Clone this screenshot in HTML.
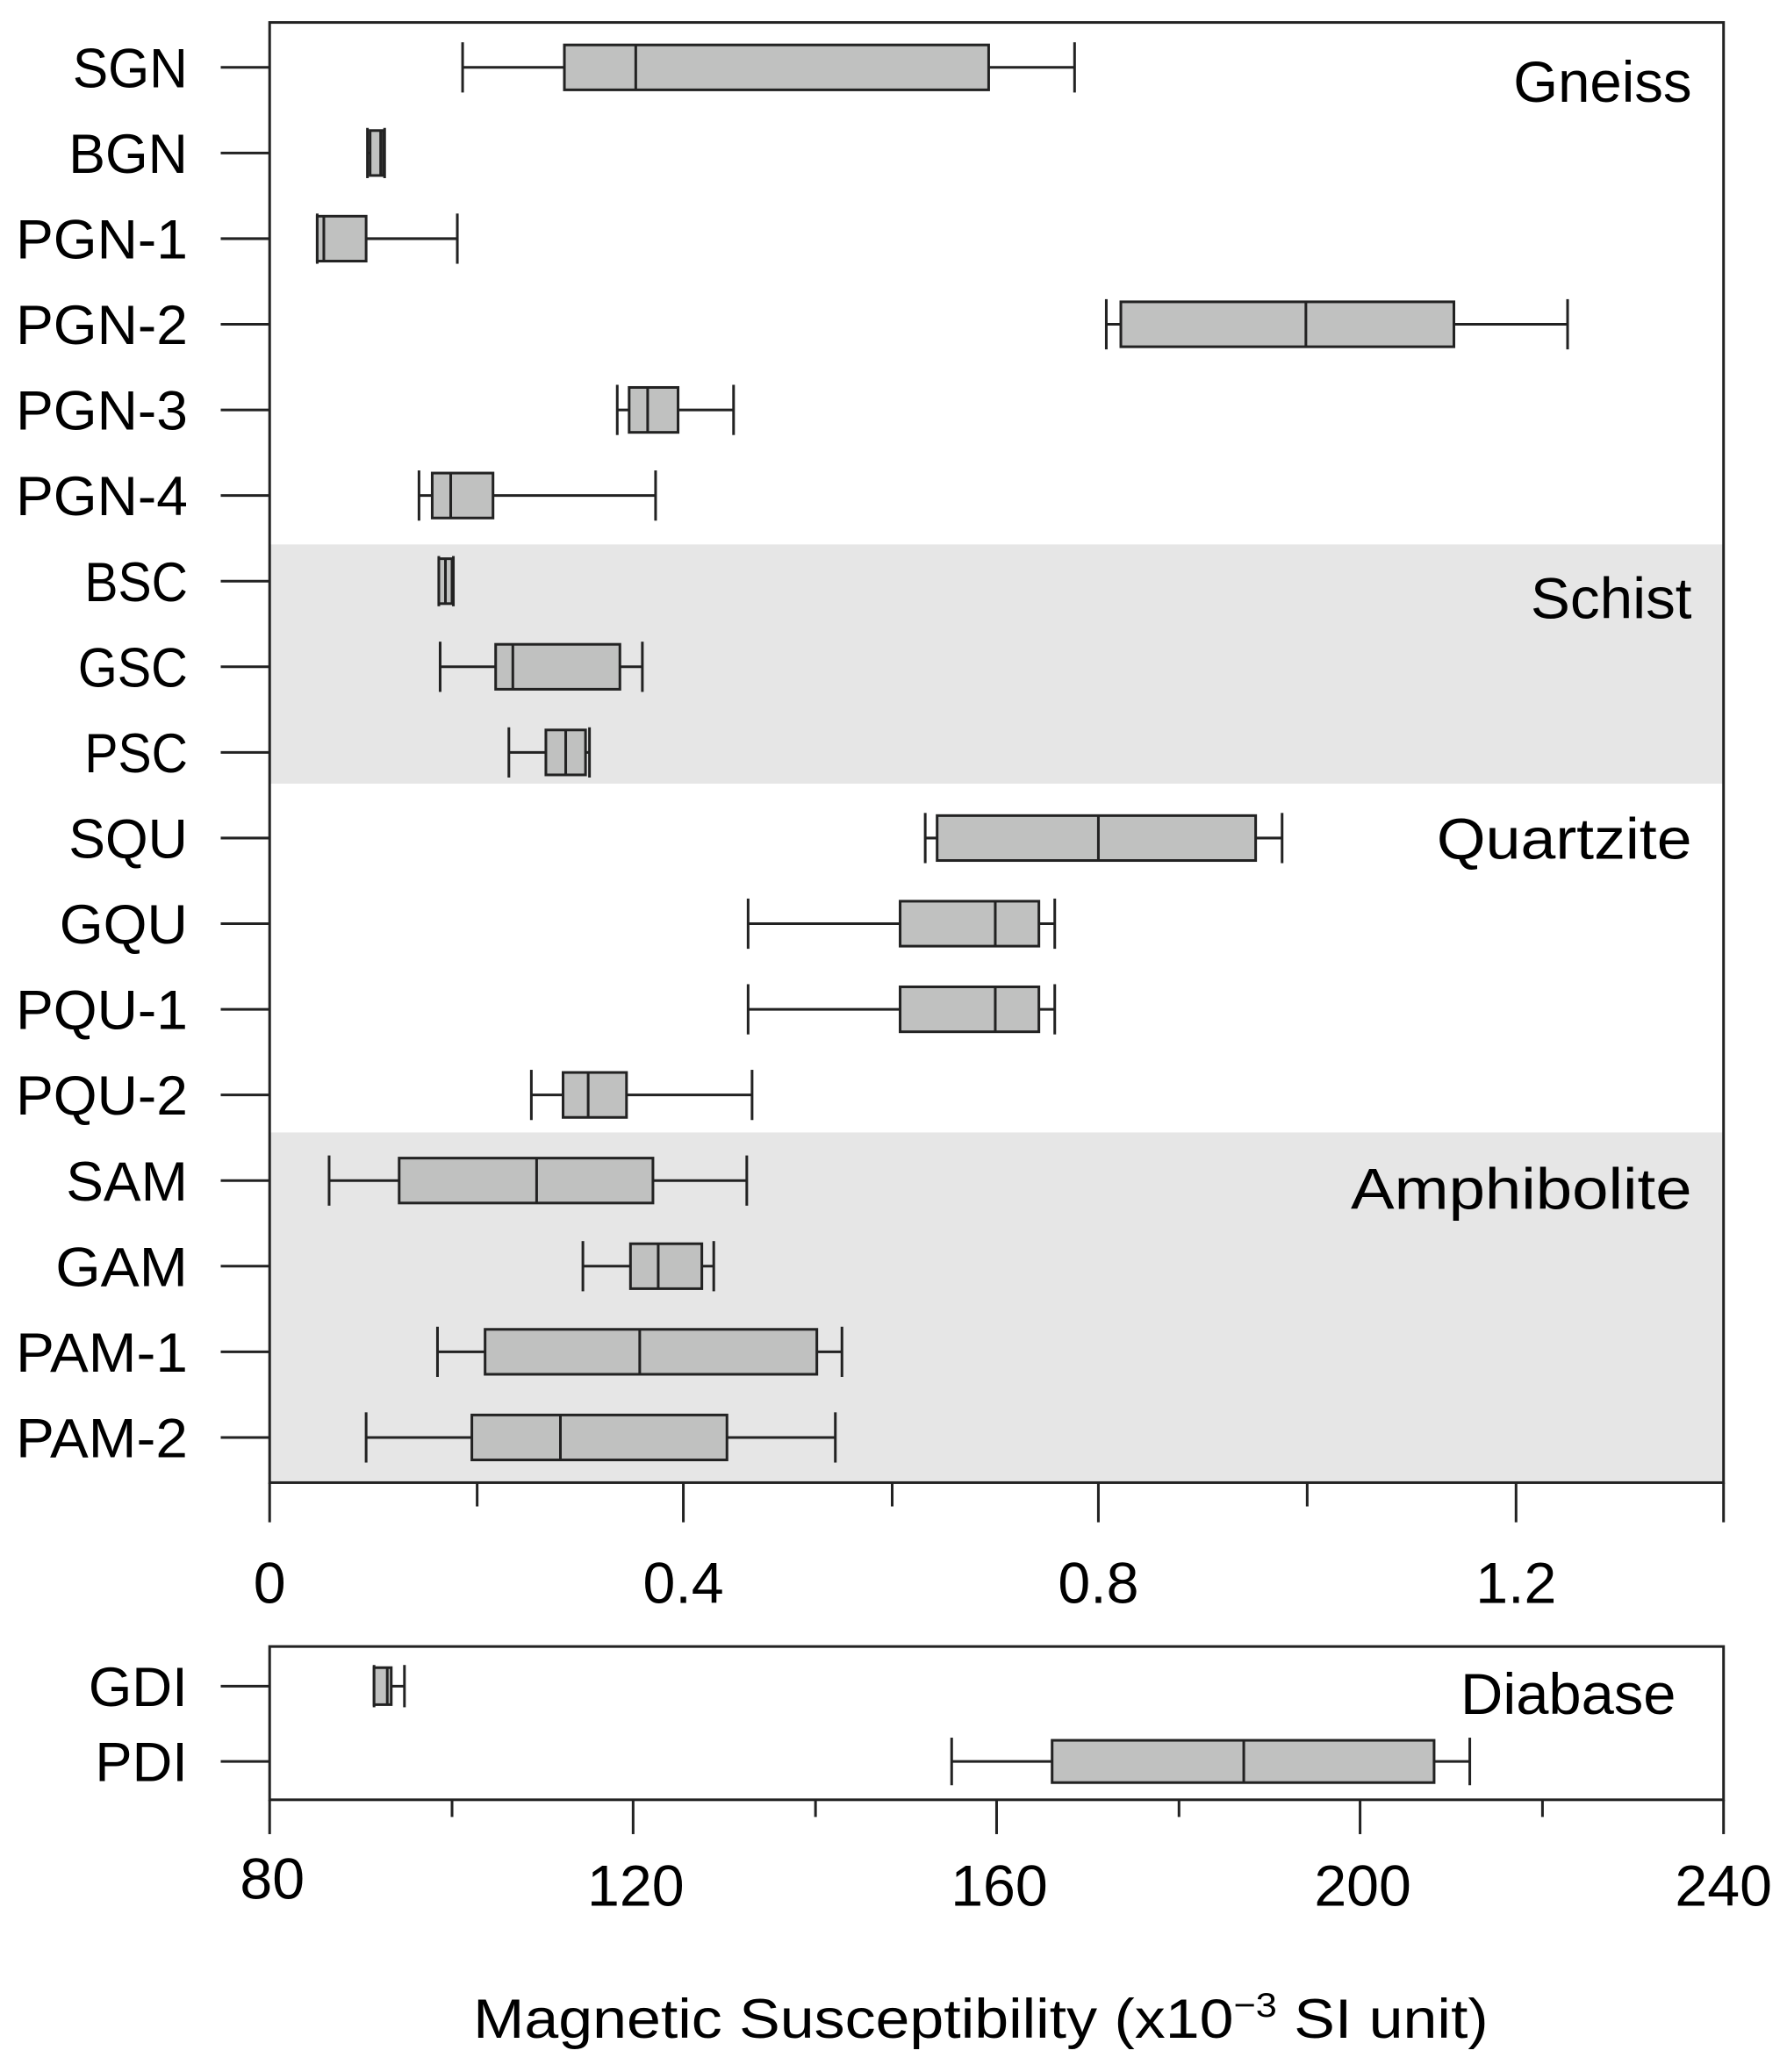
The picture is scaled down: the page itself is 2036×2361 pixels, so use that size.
<!DOCTYPE html>
<html><head><meta charset="utf-8"><style>html,body{margin:0;padding:0;background:#fff}svg{display:block}</style></head>
<body>
<svg width="2036" height="2361" viewBox="0 0 1352 1568" preserveAspectRatio="none" xmlns="http://www.w3.org/2000/svg" font-family="Liberation Sans, sans-serif" fill="#000">
<rect x="204" y="412" width="1100" height="181" fill="#e6e6e6"/>
<rect x="204" y="857" width="1100" height="265" fill="#e6e6e6"/>
<rect x="204" y="17" width="1100" height="1105" fill="none" stroke="#222" stroke-width="2"/>
<g stroke="#222" stroke-width="2">
<line x1="204" y1="1122" x2="204" y2="1152"/><line x1="517" y1="1122" x2="517" y2="1152"/><line x1="831" y1="1122" x2="831" y2="1152"/><line x1="1147" y1="1122" x2="1147" y2="1152"/><line x1="1304" y1="1122" x2="1304" y2="1152"/>
<line x1="361" y1="1122" x2="361" y2="1140"/><line x1="675" y1="1122" x2="675" y2="1140"/><line x1="989" y1="1122" x2="989" y2="1140"/>
</g>
<g font-size="44" text-anchor="middle">
<text x="204" y="1213">0</text><text x="517" y="1213">0.4</text><text x="831" y="1213">0.8</text><text x="1147" y="1213">1.2</text>
</g>
<g id="rows" stroke="#222" stroke-width="2" fill="#c0c1c0"></g>
<g font-size="42" text-anchor="end" id="labels"></g>
<g font-size="44" text-anchor="end">
<text x="1280" y="77" textLength="135" lengthAdjust="spacingAndGlyphs">Gneiss</text>
<text x="1280" y="468" textLength="122" lengthAdjust="spacingAndGlyphs">Schist</text>
<text x="1280" y="650" textLength="193" lengthAdjust="spacingAndGlyphs">Quartzite</text>
<text x="1280" y="915" textLength="258" lengthAdjust="spacingAndGlyphs">Amphibolite</text>
<text x="1268" y="1297" textLength="163" lengthAdjust="spacingAndGlyphs">Diabase</text>
</g>
<rect x="204" y="1246" width="1100" height="116" fill="none" stroke="#222" stroke-width="2"/>
<g stroke="#222" stroke-width="2">
<line x1="204" y1="1362" x2="204" y2="1388"/><line x1="479" y1="1362" x2="479" y2="1388"/><line x1="754" y1="1362" x2="754" y2="1388"/><line x1="1029" y1="1362" x2="1029" y2="1388"/><line x1="1304" y1="1362" x2="1304" y2="1388"/>
<line x1="342" y1="1362" x2="342" y2="1375"/><line x1="617" y1="1362" x2="617" y2="1375"/><line x1="892" y1="1362" x2="892" y2="1375"/><line x1="1167" y1="1362" x2="1167" y2="1375"/>
</g>
<g font-size="44" text-anchor="middle">
<text x="206" y="1437">80</text><text x="481" y="1442">120</text><text x="756" y="1442">160</text><text x="1031" y="1442">200</text><text x="1304" y="1442">240</text>
</g>
<text x="358" y="1542" font-size="42" textLength="768" lengthAdjust="spacingAndGlyphs">Magnetic Susceptibility (x10<tspan font-size="26" dy="-16">−3</tspan><tspan dy="16"> SI unit)</tspan></text>
<script>
var d=[["SGN",87,350,427,481,748,813],["BGN",90,278,280,288,290,291],["PGN-1",130,240,240,245,277,346],["PGN-2",130,837,848,988,1100,1186],["PGN-3",130,467,476,490,513,555],["PGN-4",130,317,327,341,373,496],["BSC",78,332,332,337,342,343],["GSC",83,333,375,388,469,486],["PSC",78,385,413,428,443,446],["SQU",90,700,709,831,950,970],["GQU",97,566,681,753,786,798],["PQU-1",130,566,681,753,786,798],["PQU-2",130,402,426,445,474,569],["SAM",92,249,302,406,494,565],["GAM",100,441,477,498,531,540],["PAM-1",130,331,367,484,618,637],["PAM-2",130,277,357,424,550,632]];
var ns="http://www.w3.org/2000/svg",R=document.getElementById("rows"),L=document.getElementById("labels");
function el(p,t,a){var e=document.createElementNS(ns,t);for(var k in a)e.setAttribute(k,a[k]);p.appendChild(e);return e;}
function row(r,y,h){el(R,"line",{x1:167,y1:y,x2:204,y2:y});
el(R,"line",{x1:r[2],y1:y,x2:r[6],y2:y});
el(R,"line",{x1:r[2],y1:y-h/2-2,x2:r[2],y2:y+h/2+2});
el(R,"line",{x1:r[6],y1:y-h/2-2,x2:r[6],y2:y+h/2+2});
el(R,"rect",{x:r[3],y:y-h/2,width:Math.max(r[5]-r[3],1),height:h});
el(R,"line",{x1:r[4],y1:y-h/2,x2:r[4],y2:y+h/2});
var t=el(L,"text",{x:142,y:y+15,textLength:r[1],lengthAdjust:"spacingAndGlyphs"});t.textContent=r[0];}
d.forEach(function(r,i){row(r,51+i*64.8,34);});
row(["GDI",75,283,283,293,296,306],1276,28);
row(["PDI",70,720,796,941,1085,1112],1333,32);
</script>
</svg>
</body></html>
